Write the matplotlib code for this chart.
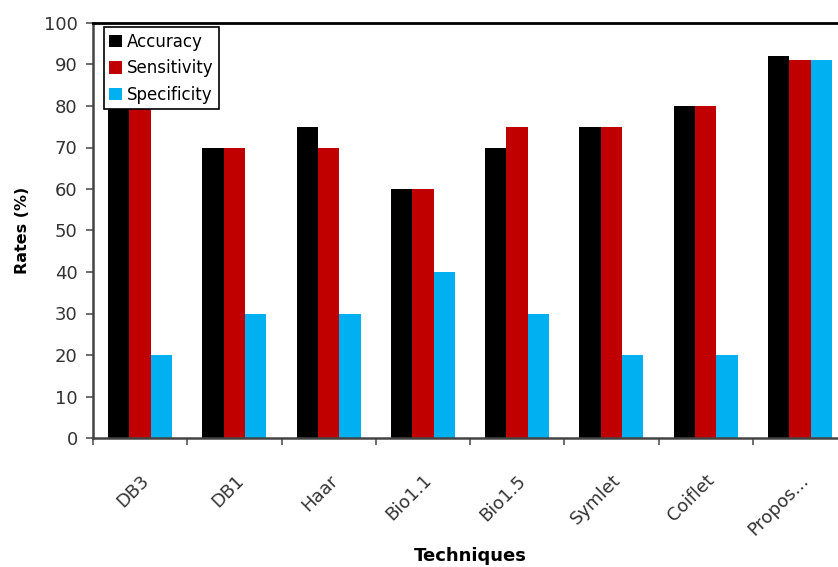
import numpy as np
import matplotlib.pyplot as plt

techniques = ["DB3", "DB1", "Haar", "Bio1.1", "Bio1.5", "Symlet", "Coiflet", "Propos..."]
accuracy = [80, 70, 75, 60, 70, 75, 80, 92]
sensitivity = [80, 70, 70, 60, 75, 75, 80, 91]
specificity = [20, 30, 30, 40, 30, 20, 20, 91]

series = [
    ("Accuracy", accuracy, "#000000"),
    ("Sensitivity", sensitivity, "#C00000"),
    ("Specificity", specificity, "#00B0F0"),
]

fig = plt.figure(figsize=(8.38, 5.67), dpi=100)
# axes runs a little past the right edge of the figure
ax = fig.add_axes([93 / 838, 1 - 438 / 567, 754 / 838, 415 / 567])

x = np.arange(len(techniques))
width = 0.227
for i, (name, vals, col) in enumerate(series):
    ax.bar(x + (i - 1) * width, vals, width, color=col, label=name, zorder=2)

ax.set_xlim(-0.5, len(techniques) - 0.5)
ax.set_ylim(0, 100)
ax.set_yticks(np.arange(0, 101, 10))
ax.tick_params(axis="y", direction="out", length=5, width=1.2, color="#555555",
               labelsize=13, labelcolor="#333333", pad=6)

# labels at category centres, tick marks at category boundaries
ax.set_xticks(x)
ax.set_xticklabels(techniques, rotation=45, ha="right", rotation_mode="anchor",
                   fontsize=13, color="#333333")
ax.set_xticks(np.arange(-0.5, len(techniques)), minor=True)
ax.tick_params(axis="x", which="major", length=0, pad=24)
ax.tick_params(axis="x", which="minor", direction="out", length=5, width=1.2, color="#555555")

for s in ["left", "bottom"]:
    ax.spines[s].set_color("#444444")
    ax.spines[s].set_linewidth(1.8)
ax.spines["top"].set_color("#000000")
ax.spines["top"].set_linewidth(2)
ax.spines["right"].set_visible(False)

ax.set_ylabel("Rates (%)", fontsize=11.5, fontweight="bold", labelpad=10)
ax.set_xlabel("Techniques", fontsize=13, fontweight="bold", labelpad=6)

leg = ax.legend(loc="upper left", bbox_to_anchor=(0.014, 0.99), fontsize=12,
                frameon=True, fancybox=False, framealpha=1, edgecolor="black",
                handlelength=0.75, handleheight=0.75, handletextpad=0.3,
                labelspacing=0.5, borderpad=0.35, borderaxespad=0)
leg.get_frame().set_linewidth(1.2)
leg.set_zorder(5)

fig.savefig("out.png", dpi=100)
